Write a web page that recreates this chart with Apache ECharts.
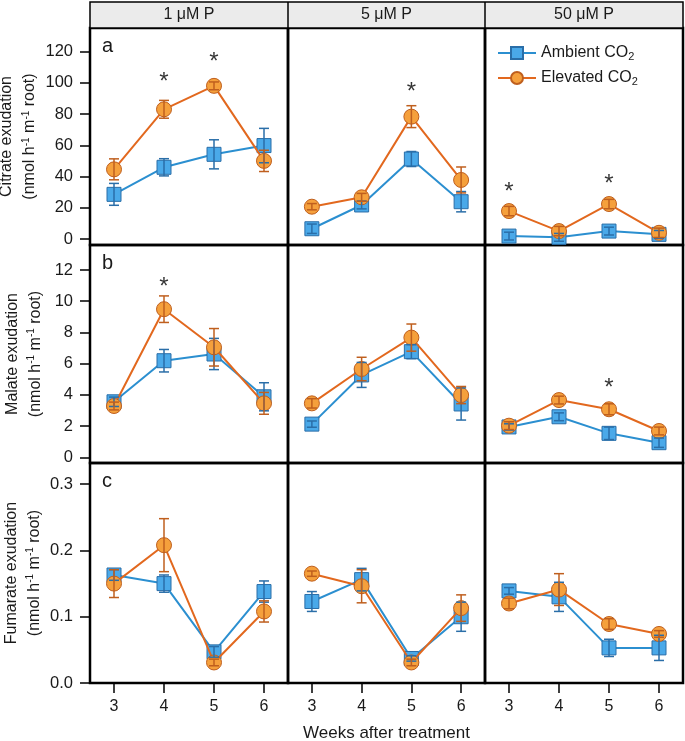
<!DOCTYPE html>
<html>
<head>
<meta charset="utf-8">
<script src="https://cdn.jsdelivr.net/npm/echarts@6/dist/echarts.min.js"></script>
<style>html,body{margin:0;padding:0;background:#fff;}#c{width:685px;height:741px;}</style>
</head>
<body>
<div id="c"></div>
<script>
// ---- data ----
const weeks = [3, 4, 5, 6];
const pLevels = ['1 μM P', '5 μM P', '50 μM P'];
const panelLetters = ['a', 'b', 'c'];
const yTicksCitrate = [0, 20, 40, 60, 80, 100, 120];
const yTicksMalate = [0, 2, 4, 6, 8, 10, 12];
const yTicksFumarate = [0, 0.1, 0.2, 0.3];

// Citrate
const citAmb1 = [28.6, 45.9, 54.2, 59.8];   const citAmb1Se = [7, 5.5, 9.3, 11];
const citEle1 = [44.6, 83.0, 98.0, 50.0];   const citEle1Se = [6.7, 5.7, 2.5, 6.8];
const citAmb5 = [6.6, 21.8, 51.2, 23.9];    const citAmb5Se = [3, 2.5, 4.8, 6.5];
const citEle5 = [20.7, 26.7, 78.3, 37.8];   const citEle5Se = [2, 2.5, 7, 8.3];
const citAmb50 = [1.9, 1.1, 5.1, 3.0];      const citAmb50Se = [2.5, 2.5, 2.5, 2.5];
const citEle50 = [17.9, 5.1, 22.4, 4.0];    const citEle50Se = [3, 3, 3, 3];
// Malate
const malAmb1 = [3.56, 6.19, 6.62, 3.88];   const malAmb1Se = [0.3, 0.72, 1.0, 0.9];
const malEle1 = [3.29, 9.49, 7.05, 3.46];   const malEle1Se = [0.25, 0.85, 1.2, 0.7];
const malAmb5 = [2.13, 5.28, 6.77, 3.42];   const malAmb5Se = [0.2, 0.8, 0.45, 1.03];
const malEle5 = [3.46, 5.66, 7.67, 3.99];   const malEle5Se = [0.3, 0.75, 0.87, 0.55];
const malAmb50 = [1.95, 2.6, 1.54, 0.94];   const malAmb50Se = [0.2, 0.25, 0.4, 0.3];
const malEle50 = [2.03, 3.67, 3.08, 1.69];  const malEle50Se = [0.25, 0.25, 0.35, 0.25];
// Fumarate
const fumAmb1 = [0.163, 0.150, 0.047, 0.138]; const fumAmb1Se = [0.008, 0.013, 0.008, 0.016];
const fumEle1 = [0.150, 0.208, 0.031, 0.108]; const fumEle1Se = [0.021, 0.040, 0.005, 0.016];
const fumAmb5 = [0.123, 0.156, 0.037, 0.100]; const fumAmb5Se = [0.015, 0.017, 0.004, 0.022];
const fumEle5 = [0.165, 0.146, 0.031, 0.113]; const fumEle5Se = [0.004, 0.025, 0.005, 0.020];
const fumAmb50 = [0.139, 0.130, 0.053, 0.053]; const fumAmb50Se = [0.005, 0.022, 0.013, 0.019];
const fumEle50 = [0.120, 0.141, 0.089, 0.074]; const fumEle50Se = [0.008, 0.024, 0.008, 0.005];

// significance asterisks [week, y]
const citStars1 = [[4, 103.8], [5, 117]];
const citStars5 = [[5, 97.6]];
const citStars50 = [[3, 33.5], [5, 39]];
const malStars1 = [[4, 11.3]];
const malStars5 = [];
const malStars50 = [[5, 4.78]];
const fumStars1 = [], fumStars5 = [], fumStars50 = [];

// ---- layout ----
const cols = [{left: 90, width: 198}, {left: 288, width: 197}, {left: 485, width: 198}];
const rows = [{top: 28, height: 217}, {top: 245, height: 218}, {top: 463, height: 220}];
const rowDefs = [
  {name: 'Citrate exudation', min: -3.8, max: 135, ticks: yTicksCitrate, fmt: v => String(v),
   amb: [[citAmb1, citAmb1Se], [citAmb5, citAmb5Se], [citAmb50, citAmb50Se]],
   ele: [[citEle1, citEle1Se], [citEle5, citEle5Se], [citEle50, citEle50Se]],
   stars: [citStars1, citStars5, citStars50]},
  {name: 'Malate exudation', min: -0.36, max: 13.6, ticks: yTicksMalate, fmt: v => String(v),
   amb: [[malAmb1, malAmb1Se], [malAmb5, malAmb5Se], [malAmb50, malAmb50Se]],
   ele: [[malEle1, malEle1Se], [malEle5, malEle5Se], [malEle50, malEle50Se]],
   stars: [malStars1, malStars5, malStars50]},
  {name: 'Fumarate exudation', min: 0, max: 0.332, ticks: yTicksFumarate, fmt: v => v.toFixed(1),
   amb: [[fumAmb1, fumAmb1Se], [fumAmb5, fumAmb5Se], [fumAmb50, fumAmb50Se]],
   ele: [[fumEle1, fumEle1Se], [fumEle5, fumEle5Se], [fumEle50, fumEle50Se]],
   stars: [fumStars1, fumStars5, fumStars50]}
];

const BLUE_LINE = '#2b8fd0', BLUE_FILL = '#4aa9e9', BLUE_EDGE = '#2a6ea8';
const ORG_LINE = '#e2681e', ORG_FILL = '#f5a03c', ORG_EDGE = '#bf5f1e';
const FONT = 'Liberation Sans, Arial, sans-serif';
const TXT = '#1a1a1a';

const grids = [], xAxes = [], yAxes = [], series = [];

function errSeries(idx, mean, se, color) {
  return {
    type: 'custom', xAxisIndex: idx, yAxisIndex: idx, z: 4, silent: true,
    data: weeks.map((w, k) => [w, mean[k] - se[k], mean[k] + se[k]]),
    encode: {x: 0, y: [1, 2]},
    renderItem: function (params, api) {
      const x = api.value(0);
      const p1 = api.coord([x, api.value(1)]);
      const p2 = api.coord([x, api.value(2)]);
      const hw = 5;
      const st = {stroke: color, lineWidth: 1.5};
      return {type: 'group', children: [
        {type: 'line', shape: {x1: p1[0], y1: p1[1], x2: p2[0], y2: p2[1]}, style: st},
        {type: 'line', shape: {x1: p1[0] - hw, y1: p1[1], x2: p1[0] + hw, y2: p1[1]}, style: st},
        {type: 'line', shape: {x1: p2[0] - hw, y1: p2[1], x2: p2[0] + hw, y2: p2[1]}, style: st}
      ]};
    }
  };
}

rowDefs.forEach((rd, r) => {
  cols.forEach((cl, c) => {
    const idx = r * 3 + c;
    grids.push({left: cl.left, width: cl.width, top: rows[r].top, height: rows[r].height,
      show: true, borderColor: '#000', borderWidth: 2.5, backgroundColor: 'transparent',
      outerBoundsMode: 'none', containLabel: false});
    const bottom = r === 2;
    xAxes.push({
      gridIndex: idx, type: 'value', min: 2.52, max: 6.48,
      axisLine: {show: false}, splitLine: {show: false},
      axisTick: {show: bottom, customValues: weeks, length: 10, lineStyle: {color: '#000', width: 1.5}},
      axisLabel: {show: bottom, customValues: weeks, fontSize: 16, color: TXT, margin: 16, fontFamily: FONT},
      name: (bottom && c === 1) ? 'Weeks after treatment' : '',
      nameLocation: 'middle', nameGap: 42,
      nameTextStyle: {fontSize: 17, color: TXT, fontFamily: FONT}
    });
    const left = c === 0;
    yAxes.push({
      gridIndex: idx, type: 'value', min: rd.min, max: rd.max,
      axisLine: {show: false}, splitLine: {show: false},
      axisTick: {show: left, customValues: rd.ticks, length: 10, lineStyle: {color: '#000', width: 1.5}},
      axisLabel: {show: left, customValues: rd.ticks, formatter: rd.fmt, fontSize: 16.5, color: TXT, margin: 17, fontFamily: FONT},
      name: left ? rd.name + '\n(nmol h{sup|-1} m{sup|-1} root)' : '',
      nameLocation: 'middle', nameGap: 43, nameRotate: 90,
      nameTextStyle: {fontSize: 16, color: TXT, fontFamily: FONT, lineHeight: 23,
        rich: {sup: {fontSize: 10, color: TXT, fontFamily: FONT, padding: [0, 0, 8, 0]}}}
    });
    const [am, as] = rd.amb[c];
    const [em, es] = rd.ele[c];
    series.push({
      type: 'line', name: 'Ambient CO2', xAxisIndex: idx, yAxisIndex: idx, z: 2,
      data: weeks.map((w, k) => [w, am[k]]),
      symbol: 'rect', symbolSize: 14,
      lineStyle: {color: BLUE_LINE, width: 2},
      itemStyle: {color: BLUE_FILL, borderColor: BLUE_EDGE, borderWidth: 1}
    });
    series.push(errSeries(idx, am, as, BLUE_EDGE));
    series.push({
      type: 'line', name: 'Elevated CO2', xAxisIndex: idx, yAxisIndex: idx, z: 3,
      data: weeks.map((w, k) => [w, em[k]]),
      symbol: 'circle', symbolSize: 15,
      lineStyle: {color: ORG_LINE, width: 2},
      itemStyle: {color: ORG_FILL, borderColor: ORG_EDGE, borderWidth: 1}
    });
    series.push(Object.assign(errSeries(idx, em, es, ORG_EDGE), {z: 5}));
    const st = rd.stars[c];
    if (st.length) {
      series.push({
        type: 'scatter', xAxisIndex: idx, yAxisIndex: idx, z: 6, silent: true,
        data: st, symbolSize: 1, itemStyle: {color: 'rgba(0,0,0,0)'},
        label: {show: true, position: 'inside', formatter: '*', fontSize: 24, color: '#000', offset: [0, 6], fontFamily: FONT}
      });
    }
  });
});

const graphics = [
  {type: 'rect', shape: {x: 90, y: 2, width: 593, height: 26}, style: {fill: '#ebebeb', stroke: '#000', lineWidth: 1.5}, z: 10},
  {type: 'line', shape: {x1: 288, y1: 2, x2: 288, y2: 28}, style: {stroke: '#000', lineWidth: 1.5}, z: 11},
  {type: 'line', shape: {x1: 485, y1: 2, x2: 485, y2: 28}, style: {stroke: '#000', lineWidth: 1.5}, z: 11}
];
cols.forEach((cl, c) => {
  graphics.push({type: 'text', x: cl.left + cl.width / 2, y: 15, z: 12,
    style: {text: pLevels[c], fontSize: 16, fill: TXT, fontFamily: FONT, textAlign: 'center', textVerticalAlign: 'middle'}});
});
rows.forEach((rw, r) => {
  graphics.push({type: 'text', x: 102, y: rw.top + 18, z: 12,
    style: {text: panelLetters[r], fontSize: 20, fill: TXT, fontFamily: FONT, textAlign: 'left', textVerticalAlign: 'middle'}});
});

const chart = echarts.init(document.getElementById('c'), null, {renderer: 'canvas'});
chart.setOption({
  animation: false,
  backgroundColor: '#fff',
  grid: grids, xAxis: xAxes, yAxis: yAxes, series: series,
  graphic: graphics,
  legend: {
    data: ['Ambient CO2', 'Elevated CO2'], orient: 'vertical', left: 497, top: 45, padding: 0,
    itemWidth: 38, itemHeight: 15, itemGap: 8,
    formatter: n => n.slice(0, -1) + '{s|2}',
    textStyle: {fontSize: 16, color: TXT, fontFamily: FONT,
      rich: {s: {fontSize: 11, color: TXT, fontFamily: FONT, padding: [7, 0, 0, 0]}}}
  }
});
</script>
</body>
</html>
